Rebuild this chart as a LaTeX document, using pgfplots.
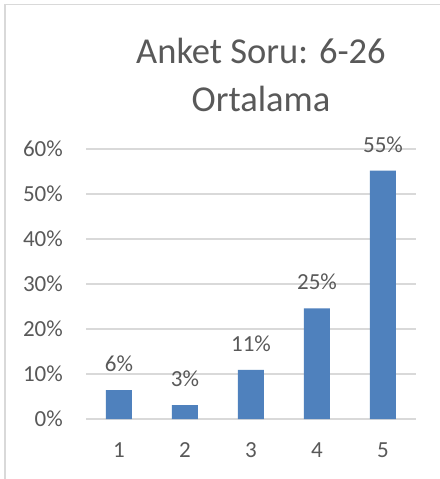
\documentclass[border=0pt]{standalone}
\usepackage{fontspec}
\setmainfont{Carlito}
\usepackage{pgfplots}
\pgfplotsset{compat=1.18}
\definecolor{txt}{HTML}{595959}
\definecolor{grd}{HTML}{D9D9D9}
\definecolor{barc}{HTML}{4F81BD}
\begin{document}
\begin{tikzpicture}
\path[use as bounding box] (0bp,0bp) rectangle (440bp,479bp);
\fill[white] (0bp,0bp) rectangle (440bp,479bp);
\draw[grd, line width=1.5bp] (5bp,-5bp) -- (5bp,474.5bp) -- (450bp,474.5bp);
\begin{axis}[
 at={(86bp,60bp)}, anchor=south west,
 scale only axis, width=330bp, height=270bp,
 xmin=0.5, xmax=5.5, ymin=0, ymax=60,
 ybar, bar width=26bp,
 xtick={1,2,3,4,5}, xticklabels={1,2,3,4,5},
 ytick={0,10,20,30,40,50,60}, yticklabels={0\%,10\%,20\%,30\%,40\%,50\%,60\%},
 axis line style={draw=none},
 major tick length=0pt,
 ymajorgrids, grid style={grd, line width=1.3bp},
 tick label style={font=\fontsize{23bp}{28bp}\selectfont, text=txt},
 xticklabel style={anchor=base, inner sep=0pt, yshift=-38bp},
 yticklabel style={anchor=east, inner sep=0pt, xshift=-23bp},
 clip=false,
 ]
\addplot[fill=barc, draw=none,
  nodes near coords={\pgfmathprintnumber[assume math mode=true,fixed,precision=0]{\pgfplotspointmeta}\%},
  every node near coord/.style={anchor=base, inner sep=0pt, yshift=18.5bp, font=\fontsize{23bp}{28bp}\selectfont, text=txt}]
  coordinates {(1,6.4) (2,3.1) (3,10.9) (4,24.6) (5,55.2)};
\node[anchor=base, inner sep=0pt, font=\fontsize{36.5bp}{44bp}\selectfont, text=txt] at ([xshift=10bp,yshift=86bp]rel axis cs:0.5,1) {Anket Soru: 6-26};
\node[anchor=base, inner sep=0pt, font=\fontsize{36.5bp}{44bp}\selectfont, text=txt] at ([xshift=10bp,yshift=38bp]rel axis cs:0.5,1) {Ortalama};
\end{axis}
\end{tikzpicture}
\end{document}
